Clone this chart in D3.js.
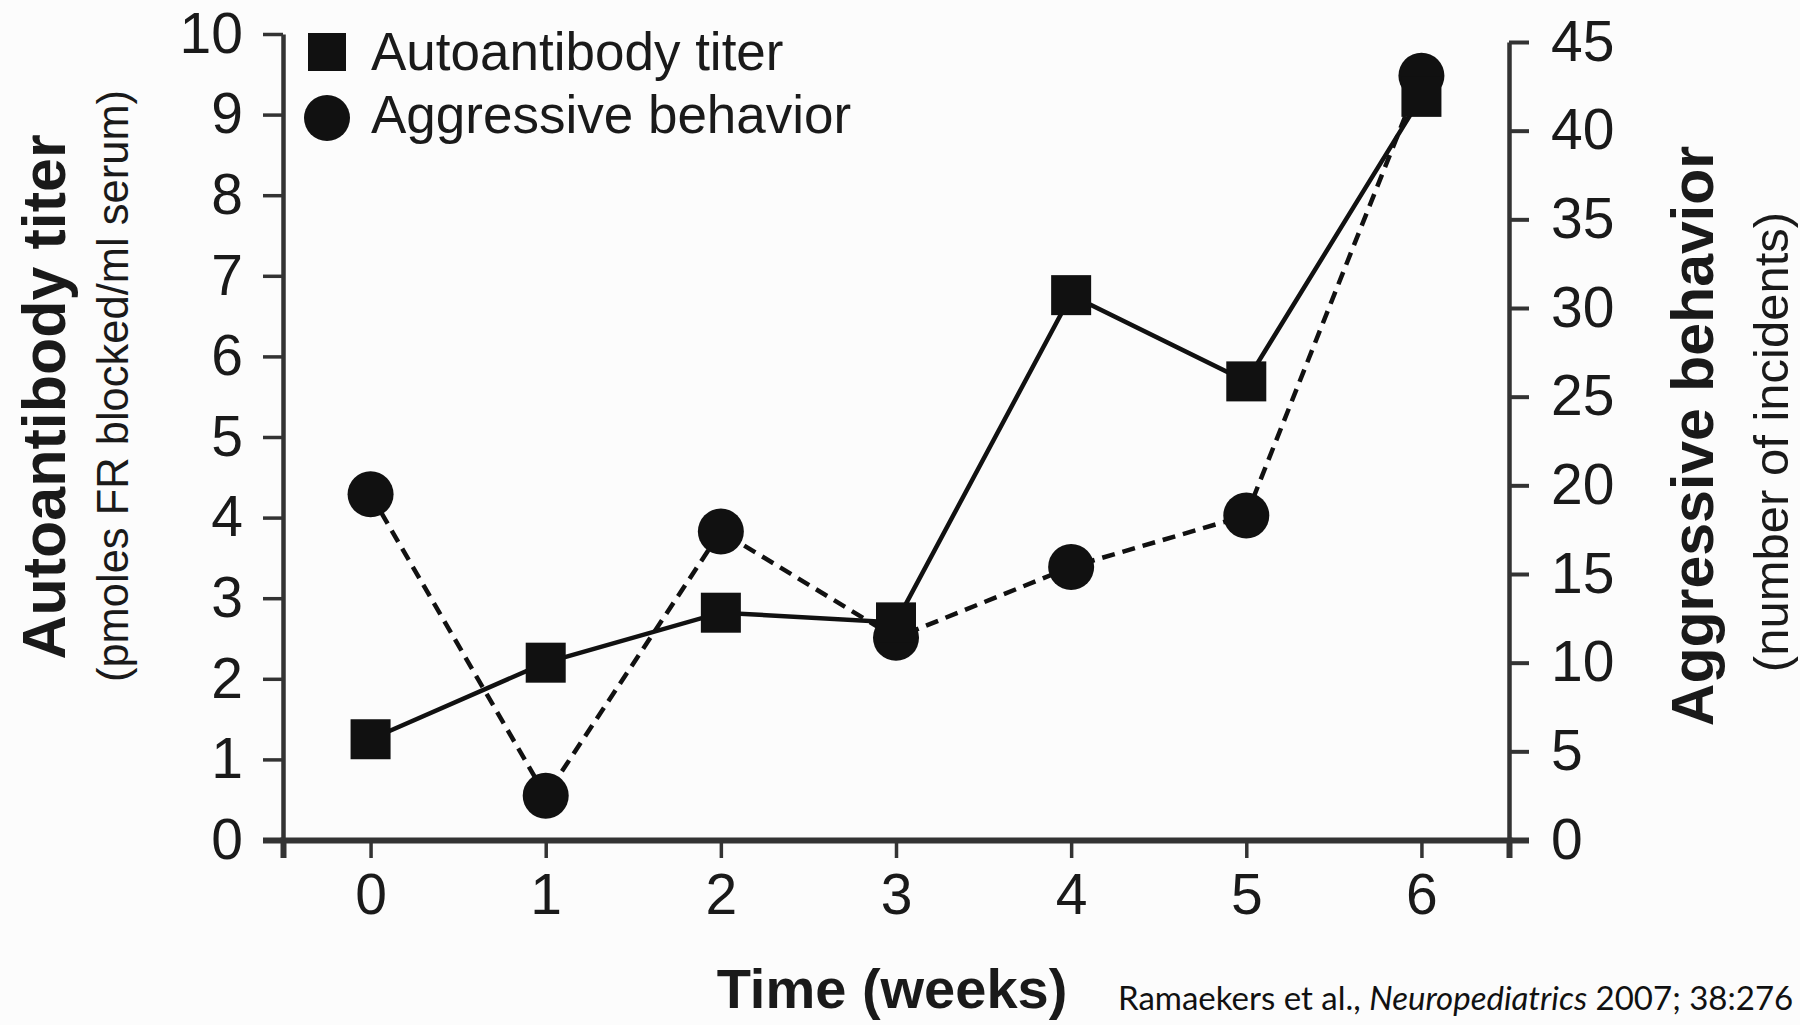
<!DOCTYPE html>
<meta charset="utf-8">
<script src="https://d3js.org/d3.v7.min.js"></script>
<style>
body { margin: 0; background: #fcfcfc; }
svg { display: block; }
.axis text { font-family: "Liberation Sans", Arial, sans-serif; font-size: 57px; fill: #1a1a1a; }
.axis path, .axis line { stroke: #333; }
.title { font-family: "Liberation Sans", Arial, sans-serif; fill: #1a1a1a; }
</style>

<div id="chart"></div>

<script>
// data
var weeks = [0, 1, 2, 3, 4, 5, 6];
var titer = [1.25, 2.2, 2.82, 2.7, 6.76, 5.69, 9.22];       // left axis
var aggression = [19.5, 2.5, 17.4, 11.4, 15.4, 18.3, 43.1];  // right axis
var titerTicks = [0, 1, 2, 3, 4, 5, 6, 7, 8, 9, 10];
var aggrTicks = [0, 5, 10, 15, 20, 25, 30, 35, 40, 45];
var seriesNames = ["Autoantibody titer", "Aggressive behavior"];

var width = 1800, height = 1025;

var svg = d3.select("#chart")
  .append("svg")
    .attr("width", width)
    .attr("height", height);

var x = d3.scaleLinear().domain([-0.5, 6.5]).range([283, 1509]);
var yL = d3.scaleLinear().domain([0, 10]).range([840, 34]);
var yR = d3.scaleLinear().domain([0, 45]).range([840, 42]);

// axes
var gx = svg.append("g")
  .attr("class", "axis")
  .attr("transform", "translate(0," + yL(0) + ")")
  .call(d3.axisBottom(x).tickValues(weeks).tickFormat(d3.format("d"))
    .tickSize(18).tickSizeOuter(18).tickPadding(16));
gx.select(".domain").attr("stroke-width", 6);
gx.selectAll(".tick line").attr("stroke-width", 3.5);

var gl = svg.append("g")
  .attr("class", "axis")
  .attr("transform", "translate(" + x(-0.5) + ",0)")
  .call(d3.axisLeft(yL).tickValues(titerTicks).tickSize(20).tickSizeOuter(0).tickPadding(20));
gl.select(".domain").attr("stroke-width", 4.5);
gl.selectAll(".tick line").attr("stroke-width", function(d) { return d === 0 ? 6 : 3.5; });

var gr = svg.append("g")
  .attr("class", "axis")
  .attr("transform", "translate(" + x(6.5) + ",0)")
  .call(d3.axisRight(yR).tickValues(aggrTicks).tickSize(20).tickSizeOuter(0).tickPadding(22));
gr.select(".domain").attr("stroke-width", 4.5);
gr.selectAll(".tick line").attr("stroke-width", function(d) { return d === 0 ? 6 : 4; });

// lines
var titerLine = d3.line()
  .x(function(d, i) { return x(weeks[i]); })
  .y(function(d) { return yL(d); });
var aggrLine = d3.line()
  .x(function(d, i) { return x(weeks[i]); })
  .y(function(d) { return yR(d); });

svg.append("path")
  .datum(aggression)
  .attr("d", aggrLine)
  .attr("fill", "none")
  .attr("stroke", "#111")
  .attr("stroke-width", 4.5)
  .attr("stroke-dasharray", "13,8");

svg.append("path")
  .datum(titer)
  .attr("d", titerLine)
  .attr("fill", "none")
  .attr("stroke", "#111")
  .attr("stroke-width", 4.5);

// markers
svg.append("g")
  .selectAll("circle")
  .data(aggression)
  .enter()
  .append("circle")
    .attr("cx", function(d, i) { return x(weeks[i]); })
    .attr("cy", function(d) { return yR(d); })
    .attr("r", 23)
    .attr("fill", "#111");

svg.append("g")
  .selectAll("rect")
  .data(titer)
  .enter()
  .append("rect")
    .attr("x", function(d, i) { return x(weeks[i]) - 20; })
    .attr("y", function(d) { return yL(d) - 20; })
    .attr("width", 40)
    .attr("height", 40)
    .attr("fill", "#111");

// legend
var legend = svg.append("g").attr("transform", "translate(327,52)");
legend.append("rect")
  .attr("x", -19).attr("y", -19)
  .attr("width", 38).attr("height", 38)
  .attr("fill", "#111");
legend.append("circle")
  .attr("cx", 0).attr("cy", 66)
  .attr("r", 23)
  .attr("fill", "#111");
legend.selectAll("text")
  .data(seriesNames)
  .enter()
  .append("text")
    .attr("class", "title")
    .attr("x", 44)
    .attr("y", function(d, i) { return 18 + i * 63; })
    .style("font-size", "53px")
    .text(function(d) { return d; });

// axis titles
svg.append("text")
  .attr("class", "title")
  .attr("transform", "translate(65,397) rotate(-90)")
  .attr("text-anchor", "middle")
  .style("font-size", "61px")
  .style("font-weight", "bold")
  .text("Autoantibody titer");

svg.append("text")
  .attr("class", "title")
  .attr("transform", "translate(128,386) rotate(-90)")
  .attr("text-anchor", "middle")
  .style("font-size", "43.5px")
  .text("(pmoles FR blocked/ml serum)");

svg.append("text")
  .attr("class", "title")
  .attr("transform", "translate(1713,436) rotate(-90)")
  .attr("text-anchor", "middle")
  .style("font-size", "59px")
  .style("font-weight", "bold")
  .text("Aggressive behavior");

svg.append("text")
  .attr("class", "title")
  .attr("transform", "translate(1788,442) rotate(-90)")
  .attr("text-anchor", "middle")
  .style("font-size", "49px")
  .text("(number of incidents)");

svg.append("text")
  .attr("class", "title")
  .attr("x", 892)
  .attr("y", 1008)
  .attr("text-anchor", "middle")
  .style("font-size", "56px")
  .style("font-weight", "bold")
  .text("Time (weeks)");

// source line
var cite = svg.append("text")
  .attr("x", 1118)
  .attr("y", 1010)
  .style("font-family", "Lato, 'Open Sans', sans-serif")
  .style("font-size", "33px")
  .style("fill", "#111");
cite.append("tspan").text("Ramaekers et al., ");
cite.append("tspan").style("font-style", "italic").text("Neuropediatrics");
cite.append("tspan").text(" 2007; 38:276");
</script>
